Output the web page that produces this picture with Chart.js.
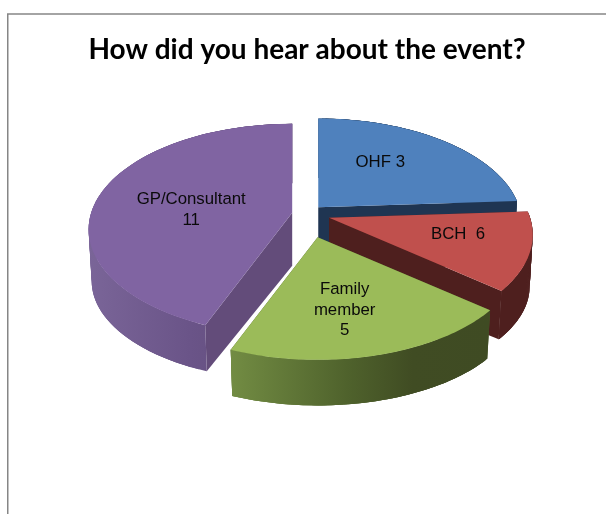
<!DOCTYPE html>
<html>
<head>
<meta charset="utf-8">
<style>html,body{margin:0;padding:0;background:#fff}canvas{display:block}</style>
<script src="https://cdn.jsdelivr.net/npm/chart.js@4/dist/chart.umd.min.js"></script>
</head>
<body>
<canvas id="c" width="606" height="514"></canvas>
<script>
const chartTitle = 'How did you hear about the event?';
const categories = ['OHF 3', 'BCH  6', 'Family\nmember\n5', 'GP/Consultant\n11'];
const sliceValues = [6, 3, 5, 11];
const topColors = ['#4f81bd', '#c0504d', '#9bbb59', '#8064a2'];
const radialColors = ['#1f3552', '#4e1f1e', '#4a5b2a', '#634c7a'];
const rimStops = [
  [[0, '#1f3552'], [1, '#1f3552']],
  [[0, '#4e1f1e'], [1, '#4e1f1e']],
  [[0, '#728c43'], [0.45, '#4f622c'], [0.7, '#404c23'], [1, '#3f4b23']],
  [[0, '#7a6598'], [0.5, '#6a5488'], [1, '#5f4a76']]
];
const explode = [0.09, 0.12, 0.225, 0.07];
const paintOrder = [0, 1, 3, 2];
const labelOffsets = [[62, -45], [129, 17], [27, 73], [-101, -3]];

const view = {cx: 306, cy: 214, R: 201, Ry: 103, k: 0.16, m: 0.015, h: 53};

function project(u, v, z) {
  const s = 1 / (1 - view.k * v + view.m * z);
  return [view.R * u * s, view.Ry * v * s + view.h * z * (1 - 0.1 * v)];
}

const pie3d = {
  id: 'pie3d',
  beforeDatasetsDraw(chart) {
    const ctx = chart.ctx;
    const arcs = chart.getDatasetMeta(0).data;
    const slices = arcs.map((arc, i) => {
      const p = arc.getProps(['startAngle', 'endAngle'], true);
      const a = p.startAngle + Math.PI / 2, b = p.endAngle + Math.PI / 2;
      const mid = (a + b) / 2;
      const apex = project(explode[i] * Math.sin(mid), -explode[i] * Math.cos(mid), 0);
      const ox = view.cx + apex[0], oy = view.cy + apex[1];
      const rim = [];
      const n = 72;
      for (let j = 0; j <= n; j++) {
        const t = a + (b - a) * j / n;
        rim.push([Math.sin(t), -Math.cos(t)]);
      }
      return {ox, oy, rim};
    });
    const poly = pts => {
      ctx.beginPath();
      pts.forEach((q, j) => j ? ctx.lineTo(q[0], q[1]) : ctx.moveTo(q[0], q[1]));
      ctx.closePath();
    };
    paintOrder.forEach(i => {
      const s = slices[i];
      const at = (u, v, z) => {
        const q = project(u, v, z);
        return [s.ox + q[0], s.oy + q[1]];
      };
      const topRim = s.rim.map(q => at(q[0], q[1], 0));
      const botRim = s.rim.map(q => at(q[0], q[1], 1));
      const a0 = at(0, 0, 0), a1 = at(0, 0, 1);
      ctx.fillStyle = radialColors[i];
      [0, topRim.length - 1].forEach(e => {
        poly([a0, topRim[e], botRim[e], a1]);
        ctx.fill();
      });
      const xs = topRim.concat(botRim).map(q => q[0]);
      const g = ctx.createLinearGradient(Math.min(...xs), 0, Math.max(...xs), 0);
      rimStops[i].forEach(st => g.addColorStop(st[0], st[1]));
      ctx.fillStyle = g;
      const last = topRim.length - 1;
      for (let j = 0; j < last; j++) {
        const e = Math.min(j + 3, last);
        poly([topRim[j], topRim[j + 1], topRim[e], botRim[e], botRim[j + 1], botRim[j]]);
        ctx.fill();
      }
      ctx.fillStyle = topColors[i];
      poly([a0].concat(topRim));
      ctx.fill();
    });
    ctx.save();
    ctx.fillStyle = '#0a0a0a';
    ctx.font = '16.8px "Liberation Sans"';
    ctx.textAlign = 'center';
    ctx.textBaseline = 'middle';
    categories.forEach((label, i) => {
      const s = slices[i];
      label.split('\n').forEach((line, j, all) => {
        const y = s.oy + labelOffsets[i][1] + (j - (all.length - 1) / 2) * 20.5;
        ctx.fillText(line, s.ox + labelOffsets[i][0], y);
      });
    });
    ctx.restore();
    return false;
  },
  afterDraw(chart) {
    const ctx = chart.ctx;
    ctx.save();
    ctx.strokeStyle = '#868686';
    ctx.lineWidth = 1.5;
    ctx.beginPath();
    ctx.moveTo(7.75, 514);
    ctx.lineTo(7.75, 14);
    ctx.lineTo(606, 14);
    ctx.stroke();
    ctx.restore();
  }
};

new Chart(document.getElementById('c'), {
  type: 'pie',
  data: {
    labels: categories,
    datasets: [{data: sliceValues, backgroundColor: topColors, borderWidth: 0}]
  },
  options: {
    responsive: false,
    animation: false,
    layout: {padding: {left: 8}},
    plugins: {
      legend: {display: false},
      tooltip: {enabled: false},
      title: {
        display: true,
        text: chartTitle,
        color: '#000',
        font: {family: 'Lato', size: 28, weight: 'bold'},
        padding: {top: 33, bottom: 10}
      }
    }
  },
  plugins: [pie3d]
});
</script>
</body>
</html>
